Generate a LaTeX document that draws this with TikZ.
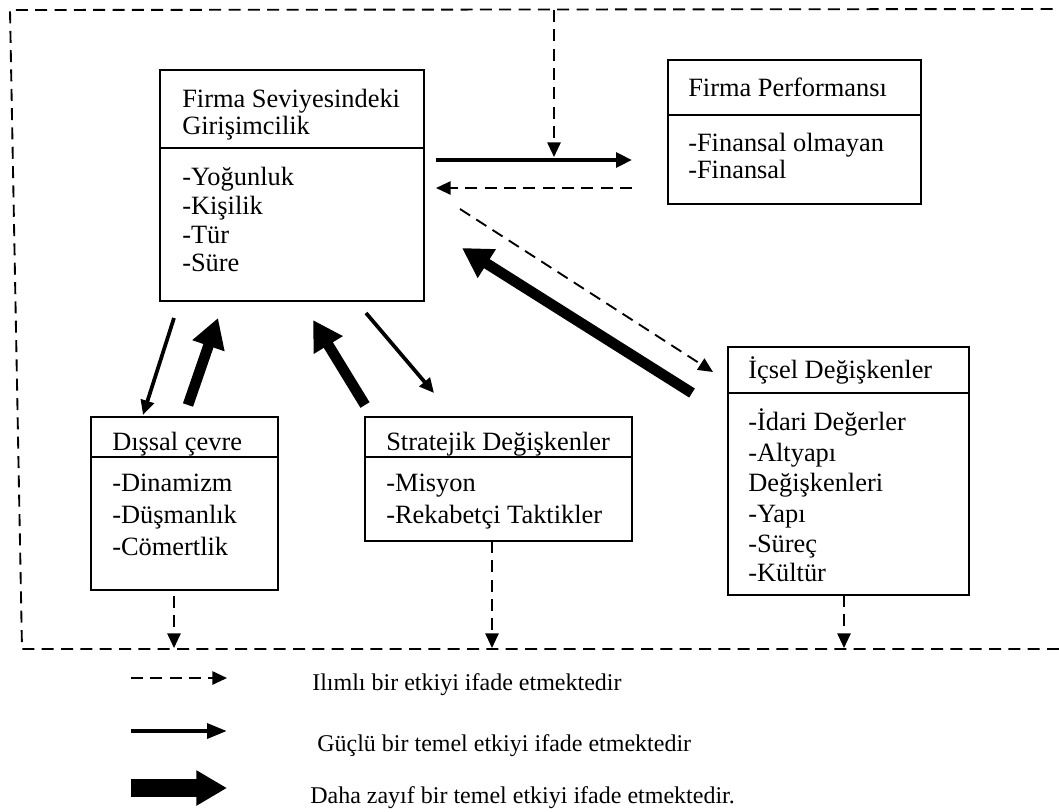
\documentclass[tikz,border=0pt]{standalone}
\usepackage{fontspec}
\setmainfont{Liberation Serif}
\usetikzlibrary{arrows.meta}
\begin{document}
\begin{tikzpicture}[x=0.75pt,y=-0.75pt,
  boxnode/.style={draw, line width=1.1pt, inner sep=0pt, outer sep=0pt, anchor=north west},
  boxline/.style={line width=1.1pt},
  txt/.style={anchor=base west, inner sep=0pt, font=\fontsize{19.8pt}{22pt}\selectfont},
  legtxt/.style={anchor=base west, inner sep=0pt, font=\fontsize{18pt}{21pt}\selectfont},
  border/.style={line width=1.4pt, dash pattern=on 9pt off 5.5pt},
  moderate/.style={line width=1.4pt, dash pattern=on 9pt off 5.5pt, -{Triangle[length=11pt,width=10pt]}},
  strongarrow/.style={line width=3.6pt, -{Triangle[length=12pt,width=11pt]}},
  strongthin/.style={line width=2.8pt, -{Triangle[length=11pt,width=10pt]}},
  weakarrow/.style={line width=8pt, -{Triangle[length=22pt,width=24pt]}},
  legstrong/.style={line width=3.2pt, -{Triangle[length=15pt,width=11pt]}},
  legweak/.style={line width=13.5pt, -{Triangle[length=23pt,width=25pt]}}
]
\useasboundingbox (0,0) rectangle (1059,811);

% outer dashed frame
\coordinate (fr1) at (1059,649);
\coordinate (fr2) at (22,649);
\coordinate (fr3) at (10,10);
\coordinate (fr4) at (1059,9);
\draw[border] (fr1) -- (fr2) -- (fr3) -- (fr4);

% Firma Seviyesindeki Girisimcilik
\node[boxnode, minimum width=198pt, minimum height=173.25pt] (fse) at (160,70) {};
\draw[boxline] (fse.west |- 0,148) -- (fse.east |- 0,148);
\node[txt] (fse1) at (182,107) {Firma Seviyesindeki};
\node[txt] (fse2) at (182,134) {Girişimcilik};
\node[txt] (fse3) at (182,185) {-Yoğunluk};
\node[txt] (fse4) at (182,214) {-Kişilik};
\node[txt] (fse5) at (182,243) {-Tür};
\node[txt] (fse6) at (182,271) {-Süre};

% Firma Performansi
\node[boxnode, minimum width=189.75pt, minimum height=108pt] (fp) at (668,60) {};
\draw[boxline] (fp.west |- 0,115) -- (fp.east |- 0,115);
\node[txt] (fp1) at (688,96) {Firma Performansı};
\node[txt] (fp2) at (688,151) {-Finansal olmayan};
\node[txt] (fp3) at (688,178) {-Finansal};

% Dissal cevre
\node[boxnode, minimum width=140.25pt, minimum height=129.75pt] (dc) at (91,417) {};
\draw[boxline] (dc.west |- 0,457) -- (dc.east |- 0,457);
\node[txt] (dc1) at (112,450) {Dışsal çevre};
\node[txt] (dc2) at (112,491) {-Dinamizm};
\node[txt] (dc3) at (112,523) {-Düşmanlık};
\node[txt] (dc4) at (112,555) {-Cömertlik};

% Stratejik Degiskenler
\node[boxnode, minimum width=200.25pt, minimum height=93pt] (sd) at (365,417) {};
\draw[boxline] (sd.west |- 0,457) -- (sd.east |- 0,457);
\node[txt] (sd1) at (386,450) {Stratejik Değişkenler};
\node[txt] (sd2) at (386,491) {-Misyon};
\node[txt] (sd3) at (386,523) {-Rekabetçi Taktikler};

% Icsel Degiskenler
\node[boxnode, minimum width=180.75pt, minimum height=186pt] (id) at (728,347) {};
\draw[boxline] (id.west |- 0,393) -- (id.east |- 0,393);
\node[txt] (id1) at (748,378) {İçsel Değişkenler};
\node[txt] (id2) at (748,430) {-İdari Değerler};
\node[txt] (id3) at (748,461) {-Altyapı};
\node[txt] (id4) at (748,491) {Değişkenleri};
\node[txt] (id5) at (748,522) {-Yapı};
\node[txt] (id6) at (748,552) {-Süreç};
\node[txt] (id7) at (748,581) {-Kültür};

% arrows between FSE and FP
\coordinate (a1s) at (436,160);
\coordinate (a1e) at (632,160);
\draw[strongarrow] (a1s) -- (a1e);
\coordinate (a2s) at (632,188);
\coordinate (a2e) at (436,188);
\draw[moderate] (a2s) -- (a2e);
\coordinate (a3s) at (554,10);
\coordinate (a3e) at (554,157);
\draw[moderate] (a3s) -- (a3e);

% arrows between FSE and Icsel
\coordinate (a4s) at (460,209);
\coordinate (a4e) at (713,372);
\draw[moderate] (a4s) -- (a4e);
\coordinate (a5s) at (692,393);
\coordinate (a5e) at (462,248);
\draw[weakarrow] (a5s) -- (a5e);

% arrows between FSE and Dissal
\coordinate (a6s) at (174,318);
\coordinate (a6e) at (143,415);
\draw[strongthin] (a6s) -- (a6e);
\coordinate (a7s) at (188,405);
\coordinate (a7e) at (218,318);
\draw[weakarrow] (a7s) -- (a7e);

% arrows between FSE and Stratejik
\coordinate (a8s) at (365,405);
\coordinate (a8e) at (313,320);
\draw[weakarrow] (a8s) -- (a8e);
\coordinate (a9s) at (366,313);
\coordinate (a9e) at (434,393);
\draw[strongthin] (a9s) -- (a9e);

% dashed arrows down to the frame
\coordinate (a10s) at (174,596);
\coordinate (a10e) at (174,648);
\draw[moderate] (a10s) -- (a10e);
\coordinate (a11s) at (492,541);
\coordinate (a11e) at (492,648);
\draw[moderate] (a11s) -- (a11e);
\coordinate (a12s) at (844,595);
\coordinate (a12e) at (844,648);
\draw[moderate] (a12s) -- (a12e);

% legend
\coordinate (l1s) at (131,678);
\coordinate (l1e) at (227,678);
\draw[moderate] (l1s) -- (l1e);
\node[legtxt] (lt1) at (312,690) {Ilımlı bir etkiyi ifade etmektedir};
\coordinate (l2s) at (131,731);
\coordinate (l2e) at (227,731);
\draw[legstrong] (l2s) -- (l2e);
\node[legtxt] (lt2) at (317,751) {Güçlü bir temel etkiyi ifade etmektedir};
\coordinate (l3s) at (131,788);
\coordinate (l3e) at (227,788);
\draw[legweak] (l3s) -- (l3e);
\node[legtxt] (lt3) at (310,803) {Daha zayıf bir temel etkiyi ifade etmektedir.};
\end{tikzpicture}
\end{document}
